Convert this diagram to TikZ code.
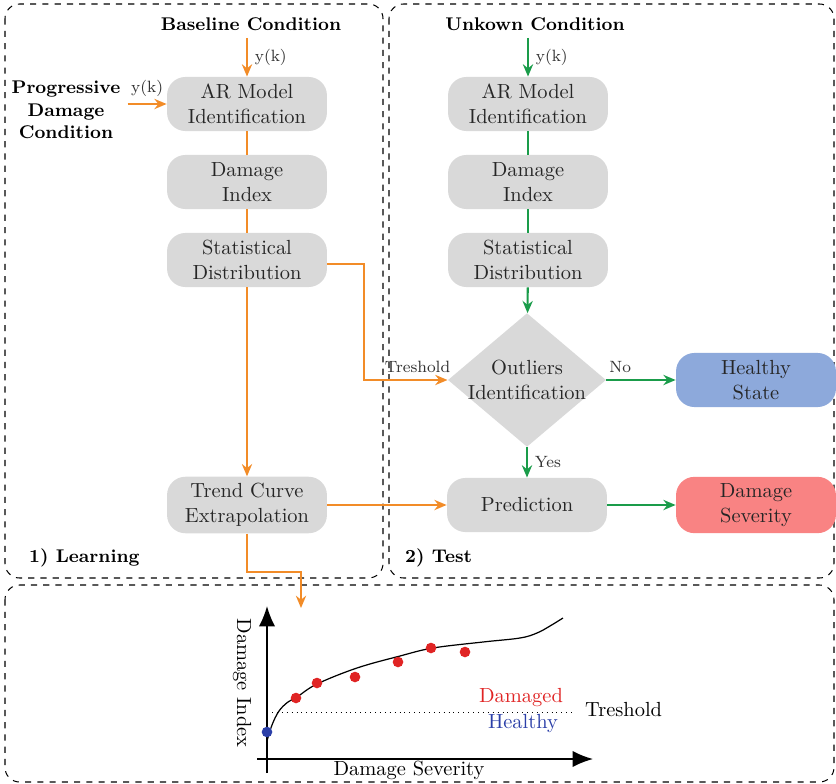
\documentclass[tikz,border=0pt]{standalone}
\usepackage{amsmath}
\usepackage[dvipsnames]{xcolor}
\usepackage{tikz}
\usetikzlibrary{calc}
\usetikzlibrary{arrows, arrows.meta, positioning, shapes.geometric}
\definecolor{BOXC}{HTML}{D9D9D9}
\definecolor{LRN}{HTML}{F28C28}
\definecolor{TST}{HTML}{1A9C4A}
\definecolor{HEA}{HTML}{8DA9DB}
\definecolor{SEV}{HTML}{F98383}
\definecolor{DOTR}{HTML}{E02424}
\definecolor{DOTB}{HTML}{2B3FA8}
\tikzset{
  BOX/.style={% Style for the gray process boxes
      rectangle, rounded corners=9pt,
      align=center,
      minimum width=2.75cm,
      minimum height=.93cm,
      fill=BOXC,
      text=black!85,
  },
  OUT/.style={% Style for the decision diamond
      diamond, aspect=1.18,
      inner sep=0pt,
      minimum width=2.72cm,
      minimum height=2.3cm,
      fill=BOXC,
  },
  HEA/.style={BOX, fill=HEA},% healthy result
  SEV/.style={BOX, fill=SEV},% damaged result
  TTL/.style={font=\small\bfseries, align=center},% condition titles
  LRN/.style={draw=LRN, line width=1pt, >={Stealth[length=6pt,width=5pt]}},
  TST/.style={draw=TST, line width=1pt, >={Stealth[length=6pt,width=5pt]}},
  LBL/.style={font=\footnotesize, text=black!80},
  frame/.style={dashed, rounded corners=.25cm, line width=.5pt},
}

\begin{document}
\begin{tikzpicture}[x=0.0172cm, y=-0.0172cm]
    \useasboundingbox (0,0) rectangle (836,784);
    % frames
    \draw[frame] (5,4) rectangle (383,578);
    \draw[frame] (389,4) rectangle (834,578);
    \draw[frame] (5,585) rectangle (834,782);
    \node[TTL, anchor=west] (lrn) at (22,558) {1) Learning};
    \node[TTL, anchor=west] (tst) at (398,558) {2) Test};

    % learning column
    \node[TTL] (blc) at (251,24) {Baseline Condition};
    \node[TTL] (pdc) at (66,110) {Progressive\\Damage\\Condition};
    \node[BOX] (arB) at (247,104) {AR Model\\Identification};
    \node[BOX] (diB) at (247,182) {Damage\\Index};
    \node[BOX] (sdB) at (247,260) {Statistical\\Distribution};
    \node[BOX] (tcB) at (247,505) {Trend Curve\\Extrapolation};

    % test column
    \node[TTL] (ukc) at (535,24) {Unkown Condition};
    \node[BOX] (arU) at (528,104) {AR Model\\Identification};
    \node[BOX] (diU) at (528,182) {Damage\\Index};
    \node[BOX] (sdU) at (528,260) {Statistical\\Distribution};
    \node[OUT] (out) at (527,380) {};
    \node[align=center, text=black!85] (outT) at (out) {Outliers\\Identification};
    \node[BOX] (prU) at (527,505) {Prediction};
    \node[HEA] (hsB) at (756,380) {Healthy\\State};
    \node[SEV] (dsB) at (756,505) {Damage\\Severity};

    % learning flow
    \draw[LRN,->] (arB.north |- blc.south) -- node[LBL, right] {y(k)} (arB.north);
    \draw[LRN,->] (pdc.east |- arB.west) -- node[LBL, above] {y(k)} (arB.west);
    \draw[LRN] (arB) -- (diB) (diB) -- (sdB);
    \draw[LRN,->] ([yshift=-2pt]sdB.east) -- ++(37,0) |- node[LBL, pos=.82, above] {Treshold} (out.west);
    \draw[LRN,->] (sdB) -- (tcB);
    \draw[LRN,->] (tcB) -- (prU);
    \coordinate (plotin) at (301,608);
    \draw[LRN,->] (tcB.south) -- ++(0,38) -| (plotin);

    % test flow
    \draw[TST,->] (arU.north |- ukc.south) -- node[LBL, right] {y(k)} (arU.north);
    \draw[TST] (arU) -- (diU) (diU) -- (sdU);
    \draw[TST,->] (sdU) -- (out);
    \draw[TST,->] (out) -- node[LBL, above, pos=.2] {No} (hsB);
    \draw[TST,->] (out) -- node[LBL, right] {Yes} (prU);
    \draw[TST,->] (prU) -- (dsB);

    % trend curve plot
    \draw[line width=.8pt, -{Latex[length=10pt,width=8pt]}] (267,773) -- (267,606);
    \draw[line width=.8pt, -{Latex[length=10pt,width=8pt]}] (257,759) -- (593,759);
    \node[rotate=-90] (yl) at (242,683) {Damage Index};
    \node (xl) at (409,770) {Damage Severity};
    \draw[dotted] (272,712) -- (575,712);
    \node[anchor=west] (thr) at (578,710) {Treshold};
    \node[text=DOTR] (dmg) at (521,698) {Damaged};
    \node[text=DOTB] (hlt) at (523,723) {Healthy};
    \draw[line width=.6pt] plot[smooth, tension=.6] coordinates {
      (267,741) (272,725) (279,711) (288,702) (297,697) (317,684)
      (357,668) (400,656) (433,648) (483,642) (520,638) (537,633)
      (550,626) (563,618)};
    \foreach \px/\py in {296/698, 317/683, 355/677, 398/662, 431/648, 465/652} {
      \fill[DOTR] (\px,\py) circle (2.6pt);
    }
    \fill[DOTB] (267,732) circle (2.6pt);
\end{tikzpicture}
\end{document}
